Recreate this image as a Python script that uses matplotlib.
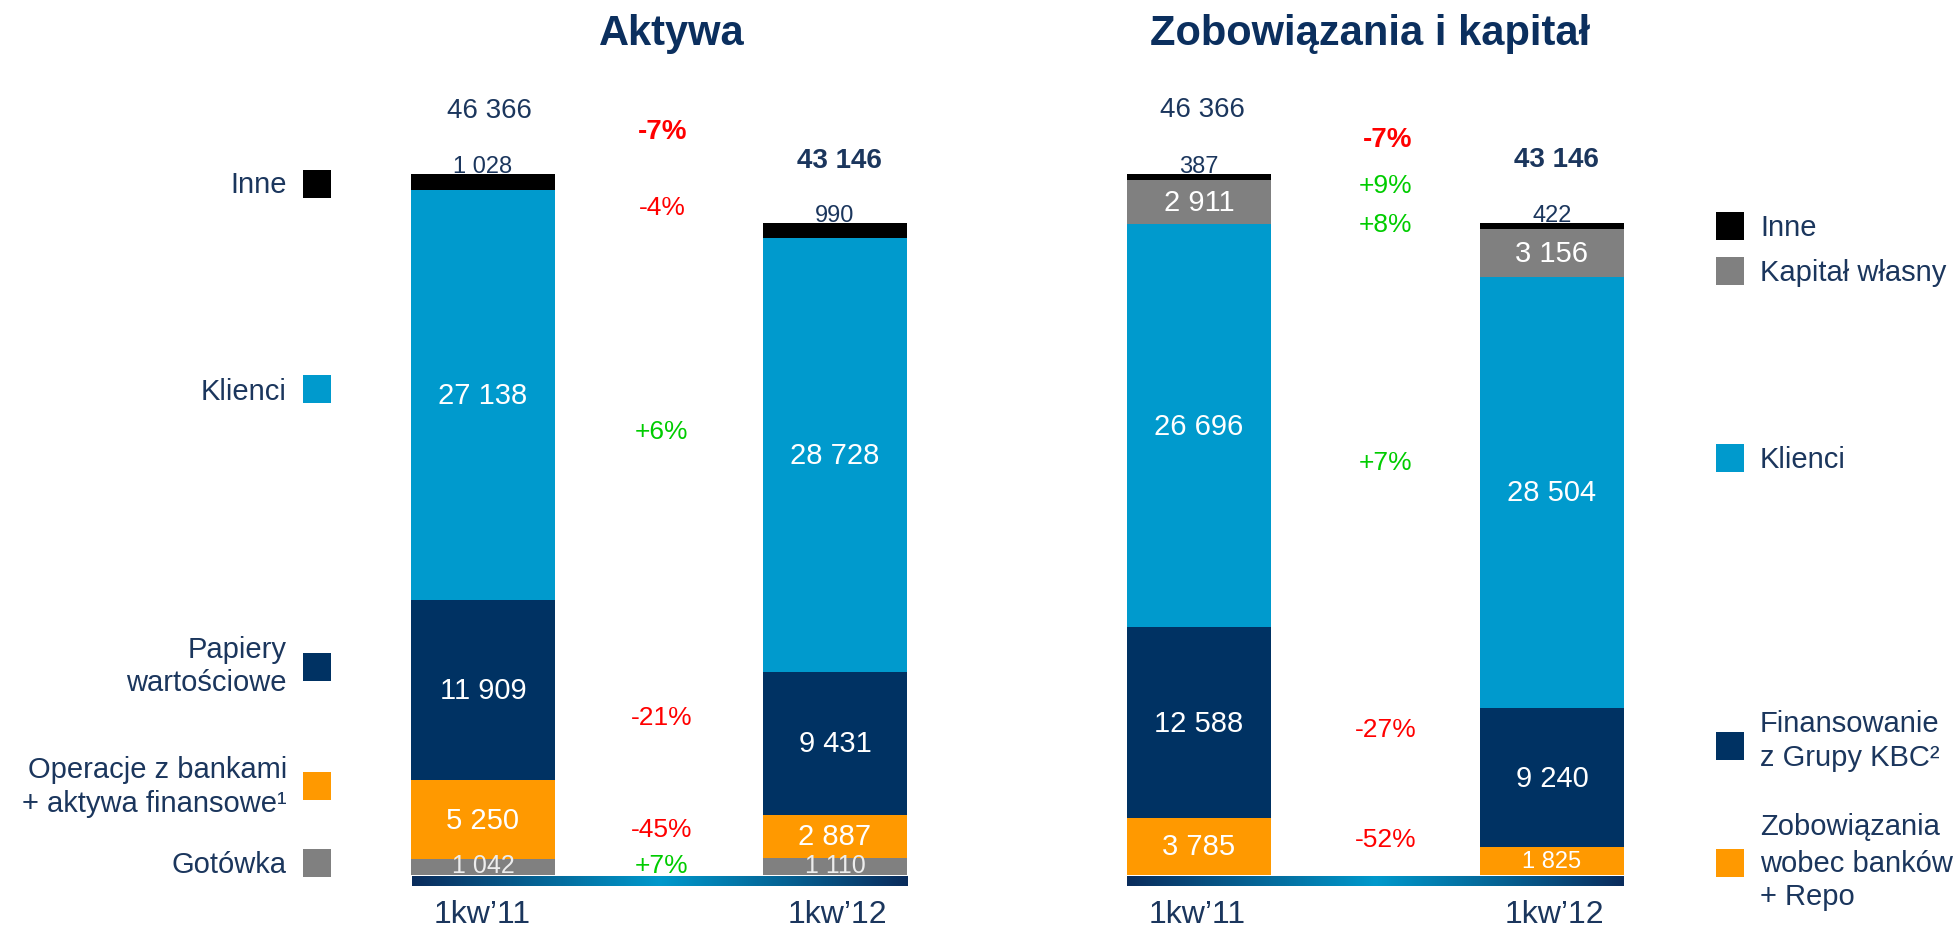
import numpy as np
import matplotlib.pyplot as plt
from matplotlib.colors import LinearSegmentedColormap

plt.rcParams['font.family'] = ['Liberation Sans', 'DejaVu Sans']

# ---- data ----
periods = ['1kw\u201911', '1kw\u201912']

asset_cats = ['Got\u00f3wka', 'Operacje z bankami + aktywa finansowe', 'Papiery warto\u015bciowe', 'Klienci', 'Inne']
asset_q11 = [1042, 5250, 11909, 27138, 1028]
asset_q12 = [1110, 2887, 9431, 28728, 990]
asset_labels_q11 = ['1 042', '5 250', '11 909', '27 138', '1 028']
asset_labels_q12 = ['1 110', '2 887', '9 431', '28 728', '990']
asset_chg = ['+7%', '-45%', '-21%', '+6%', '-4%']

liab_cats = ['Zobowi\u0105zania wobec bank\u00f3w + Repo', 'Finansowanie z Grupy KBC', 'Klienci', 'Kapita\u0142 w\u0142asny', 'Inne']
liab_q11 = [3785, 12588, 26696, 2911, 387]
liab_q12 = [1825, 9240, 28504, 3156, 422]
liab_labels_q11 = ['3 785', '12 588', '26 696', '2 911', '387']
liab_labels_q12 = ['1 825', '9 240', '28 504', '3 156', '422']
liab_chg = ['-52%', '-27%', '+7%', '+8%', '+9%']

totals = ['46 366', '43 146']
total_chg = '-7%'

# ---- style ----
navy = '#003263'
lblue = '#009ACD'
orange = '#FF9900'
gray = '#808080'
txt = '#1B365D'
red = '#FF0000'
green = '#00CC00'
seg_colors = [gray, orange, navy, lblue, 'black']
liab_colors = [orange, navy, lblue, gray, 'black']

W, H = 1955, 928
fig = plt.figure(figsize=(W / 100, H / 100), dpi=100)
ax = fig.add_axes([0, 0, 1, 1])
ax.axis('off')

# vertical scale: pixel row of bar bottom and px per unit
base_px = 876
k = 701 / 46367
ax.set_xlim(0, W)
ax.set_ylim(-(H - base_px) / k, base_px / k)


def py(p):
    # pixel row -> data y
    return (base_px - p) / k


bw = 144
xpos = {'a1': 483, 'a2': 835, 'l1': 1199, 'l2': 1552}


def stack(x, vals, colors, labels, small_bottom=False):
    bottoms = np.concatenate([[0], np.cumsum(vals)[:-1]])
    ax.bar([x] * len(vals), vals, bottom=bottoms, width=bw, color=colors, linewidth=0)
    n = len(vals)
    for i in range(n):
        mid = bottoms[i] + vals[i] / 2
        if i == n - 1:
            ax.annotate(labels[i], (x, bottoms[i] + vals[i]), xytext=(0, 2),
                        textcoords='offset pixels', ha='center', va='baseline',
                        fontsize=17, color=txt)
        elif vals[i] < 2000:
            if small_bottom and i == 0:
                ax.text(x, py(873), labels[i], ha='center', va='baseline',
                        fontsize=18, color='#EDEDED')
            else:
                ax.text(x, mid, labels[i], ha='center', va='center',
                        fontsize=17, color='white')
        else:
            ax.text(x, mid, labels[i], ha='center', va='center',
                    fontsize=21, color='white')


stack(xpos['a1'], asset_q11, seg_colors, asset_labels_q11, small_bottom=True)
stack(xpos['a2'], asset_q12, seg_colors, asset_labels_q12, small_bottom=True)
stack(xpos['l1'], liab_q11, liab_colors, liab_labels_q11)
stack(xpos['l2'], liab_q12, liab_colors, liab_labels_q12)

# gradient base strips
cmap = LinearSegmentedColormap.from_list('g', ['#0A2C5C', '#0099CC', '#0A2C5C'])
grad = np.linspace(0, 1, 256).reshape(1, -1)
for x0, x1 in [(412, 908), (1127, 1624)]:
    ax.imshow(grad, cmap=cmap, aspect='auto', extent=(x0, x1, py(887), py(877)),
              interpolation='bilinear', zorder=3)

# titles
ax.text(672, py(45), 'Aktywa', ha='center', va='baseline', fontsize=30,
        fontweight='bold', color='#0B2F5E')
ax.text(1370, py(45), 'Zobowi\u0105zania i kapita\u0142', ha='center', va='baseline',
        fontsize=30, fontweight='bold', color='#0B2F5E')

# totals
ax.text(489, py(118), totals[0], ha='center', va='baseline', fontsize=20, color=txt)
ax.text(839, py(168), totals[1], ha='center', va='baseline', fontsize=20,
        fontweight='bold', color=txt)
ax.text(1202, py(117), totals[0], ha='center', va='baseline', fontsize=20, color=txt)
ax.text(1556, py(167), totals[1], ha='center', va='baseline', fontsize=20,
        fontweight='bold', color=txt)
ax.text(663, py(139), total_chg, ha='center', va='baseline', fontsize=20,
        fontweight='bold', color=red)
ax.text(1388, py(147), total_chg, ha='center', va='baseline', fontsize=20,
        fontweight='bold', color=red)

# change percentages (baseline rows)
asset_chg_rows = [873, 837, 725, 439, 215]
liab_chg_rows = [847, 737, 470, 232, 193]
for s, r in zip(asset_chg, asset_chg_rows):
    ax.text(662, py(r), s, ha='center', va='baseline', fontsize=19,
            color=green if s.startswith('+') else red)
for s, r in zip(liab_chg, liab_chg_rows):
    ax.text(1386, py(r), s, ha='center', va='baseline', fontsize=19,
            color=green if s.startswith('+') else red)

# x labels
for x, lab in zip([482, 837, 1197, 1554], periods * 2):
    ax.text(x, py(923), lab, ha='center', va='baseline', fontsize=23, color=txt)

# left legend (text right-aligned, square to the right)
left_leg = [
    (['Got\u00f3wka'], gray, 864, [873]),
    (['Operacje z bankami', '+ aktywa finansowe\u00b9'], orange, 787, [778, 812]),
    (['Papiery', 'warto\u015bciowe'], navy, 668, [658, 691]),
    (['Klienci'], lblue, 390, [400]),
    (['Inne'], 'black', 185, [193]),
]
for lines, c, cy, rows in left_leg:
    ax.add_patch(plt.Rectangle((303, py(cy + 14)), 28, 28 / k, color=c, lw=0))
    for ln, r in zip(lines, rows):
        ax.text(287, py(r), ln, ha='right', va='baseline', fontsize=21, color=txt)

# right legend (square left, text to the right)
right_leg = [
    (['Zobowi\u0105zania', 'wobec bank\u00f3w', '+ Repo'], orange, 864, [835, 872, 905]),
    (['Finansowanie', 'z Grupy KBC\u00b2'], navy, 747, [732, 766]),
    (['Klienci'], lblue, 459, [468]),
    (['Kapita\u0142 w\u0142asny'], gray, 272, [281]),
    (['Inne'], 'black', 227, [236]),
]
for lines, c, cy, rows in right_leg:
    ax.add_patch(plt.Rectangle((1716, py(cy + 14)), 28, 28 / k, color=c, lw=0))
    for ln, r in zip(lines, rows):
        ax.text(1760, py(r), ln, ha='left', va='baseline', fontsize=21, color=txt)

fig.savefig('out.png', dpi=100)
